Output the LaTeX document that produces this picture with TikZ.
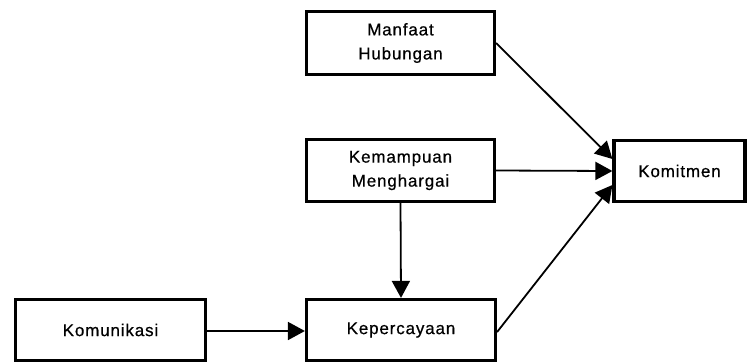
\documentclass[tikz,border=0pt]{standalone}
\usepackage{fontspec}
\setmainfont{Liberation Sans}[LetterSpace=5,FakeBold=0.6]
\usetikzlibrary{arrows.meta}
\begin{document}
\begin{tikzpicture}[x=1pt,y=-1pt,
  box/.style={draw=black, line width=3.2pt, fill=white, inner sep=0pt, align=center,
    font=\fontsize{17pt}{24pt}\selectfont},
  conn/.style={line width=1.8pt, -{Triangle[length=17pt,width=18pt]}}]
\useasboundingbox (0,0) rectangle (748,364);
\node[box, minimum width=188pt, minimum height=63pt] (man) at (400.5,43) {Manfaat\\Hubungan};
\node[box, minimum width=188pt, minimum height=62pt] (kem) at (400.5,170.5) {Kemampuan\\Menghargai};
\node[box, minimum width=131pt, minimum height=61pt] (kom) at (679.5,171) {Komitmen};
\node[box, minimum width=190pt, minimum height=61pt] (komu) at (110.5,330) {Komunikasi};
\node[box, minimum width=189pt, minimum height=61pt] (kep) at (401,330) {Kepercayaan};
\draw[conn] ([yshift=-1pt]komu.east) -- ([yshift=-1pt]kep.west);
\draw[conn] (kem.south) -- (kep.north);
\draw[conn] (kem.east) -- (kom.west);
\draw[conn] (man.east) -- ([yshift=12pt]kom.west);
\draw[conn] ([yshift=-2pt]kep.east) -- ([yshift=-14pt]kom.west);
\end{tikzpicture}
\end{document}
